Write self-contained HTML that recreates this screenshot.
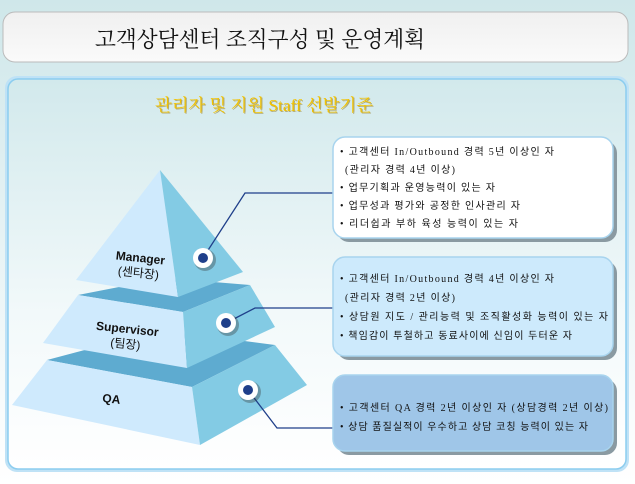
<!DOCTYPE html>
<html><head><meta charset="utf-8"><style>
body{margin:0;width:635px;height:484px;overflow:hidden;background:#cfe7ea;font-family:"Liberation Sans","Noto Sans CJK KR",sans-serif;}
</style></head><body>
<svg width="635" height="484" xmlns="http://www.w3.org/2000/svg" style="position:absolute;left:0;top:0">
<defs>
<linearGradient id="bg" x1="0" y1="0" x2="0" y2="1"><stop offset="0" stop-color="#cfe7ea"/><stop offset="1" stop-color="#ffffff"/></linearGradient>
<linearGradient id="panel" x1="0" y1="0" x2="0" y2="1"><stop offset="0" stop-color="#d2e9ec"/><stop offset="0.6" stop-color="#f2f9fa"/><stop offset="1" stop-color="#ffffff"/></linearGradient>
<linearGradient id="tb" x1="0" y1="0" x2="0" y2="1"><stop offset="0" stop-color="#f0f0f0"/><stop offset="1" stop-color="#fafafa"/></linearGradient>
</defs>
<rect width="635" height="484" fill="url(#bg)"/>
<rect x="3" y="12" width="625" height="50" rx="12" fill="url(#tb)" stroke="#bbb" stroke-width="1"/>
<text x="260" y="47" font-size="22" text-anchor="middle" font-family="'Noto Serif CJK SC','Noto Sans CJK KR',serif" fill="#111" textLength="330" lengthAdjust="spacingAndGlyphs">고객상담센터 조직구성 및 운영계획</text>
<text x="265" y="112" font-size="17" text-anchor="middle" font-family="'Liberation Serif','Noto Serif CJK SC',serif" fill="#8a6a00" opacity="0.6" textLength="218" lengthAdjust="spacingAndGlyphs">관리자 및 지원 Staff 선발기준</text>
<rect x="5" y="76" width="624" height="396" rx="12" fill="#bfe2f6"/>
<rect x="8" y="79" width="618" height="390" rx="10" fill="url(#panel)" stroke="#8ccdef" stroke-width="1.5"/>
<text x="265" y="112" font-size="17" text-anchor="middle" font-family="'Liberation Serif','Noto Serif CJK SC',serif" fill="#8a6a00" opacity="0.5" textLength="218" lengthAdjust="spacingAndGlyphs">관리자 및 지원 Staff 선발기준</text>
<text x="264" y="111" font-size="17" text-anchor="middle" font-family="'Liberation Serif','Noto Serif CJK SC',serif" fill="#f2c200" textLength="218" lengthAdjust="spacingAndGlyphs">관리자 및 지원 Staff 선발기준</text>

<polygon points="47,360 192,387 275,345 160,330" fill="#5eabd0"/>
<polygon points="12,405 47,360 192,387 200,445" fill="#cfeafd"/>
<polygon points="192,387 275,345 307,385 200,445" fill="#83cbe4"/>
<polygon points="78,295 183,312 250,285 165,278" fill="#5eabd0"/>
<polygon points="43,343 78,295 183,312 187,368" fill="#cfeafd"/>
<polygon points="183,312 250,285 275,327 187,368" fill="#83cbe4"/>
<polygon points="160,170 76,280 178,297" fill="#cfeafd"/>
<polygon points="160,170 178,297 243,272" fill="#83cbe4"/>

<text x="140" y="262" font-size="12" font-weight="bold" text-anchor="middle" fill="#111" transform="rotate(6 140 262)">Manager</text>
<text x="138" y="277" font-size="12" text-anchor="middle" fill="#111" transform="rotate(6 138 277)">(센타장)</text>
<text x="127" y="333" font-size="12" font-weight="bold" text-anchor="middle" fill="#111" transform="rotate(6 127 333)">Supervisor</text>
<text x="125" y="348" font-size="12" text-anchor="middle" fill="#111" transform="rotate(6 125 348)">(팀장)</text>
<text x="111" y="403" font-size="12" font-weight="bold" text-anchor="middle" fill="#111" transform="rotate(6 111 403)">QA</text>

<g fill="none" stroke="#1f3f8a" stroke-width="1.3">
<polyline points="203,258 245,193 334,193"/>
<polyline points="226,323 255,308 334,308"/>
<polyline points="248,390 277,428 334,428"/>
</g>
<g>
<circle cx="205" cy="260" r="11" fill="#333" opacity="0.35"/><circle cx="203" cy="258" r="10" fill="#fff"/><circle cx="203" cy="258" r="5" fill="#1f3f8a"/>
<circle cx="228" cy="325" r="11" fill="#333" opacity="0.35"/><circle cx="226" cy="323" r="10" fill="#fff"/><circle cx="226" cy="323" r="5" fill="#1f3f8a"/>
<circle cx="250" cy="392" r="11" fill="#333" opacity="0.35"/><circle cx="248" cy="390" r="10" fill="#fff"/><circle cx="248" cy="390" r="5" fill="#1f3f8a"/>
</g>

<rect x="337" y="141" width="280" height="101" rx="12" fill="#8a9aa2"/>
<rect x="333" y="137" width="280" height="101" rx="12" fill="#fff" stroke="#a8d4ee" stroke-width="1.5"/>
<rect x="337" y="261" width="280" height="99" rx="12" fill="#8a9aa2"/>
<rect x="333" y="257" width="280" height="99" rx="12" fill="#cdeafc" stroke="#a8d4ee" stroke-width="1.5"/>
<rect x="337" y="379" width="280" height="76" rx="12" fill="#8a9aa2"/>
<rect x="333" y="375" width="280" height="76" rx="12" fill="#9fc6e8" stroke="#a8d4ee" stroke-width="1.5"/>

<g font-size="10" fill="#111" font-family="'Liberation Serif','Noto Sans CJK KR',sans-serif" lengthAdjust="spacing">
<text x="340" y="155" textLength="214">• 고객센터 In/Outbound  경력 5년 이상인 자</text>
<text x="345" y="173" textLength="110">(관리자 경력 4년 이상)</text>
<text x="340" y="191" textLength="155">• 업무기획과 운영능력이 있는 자</text>
<text x="340" y="209" textLength="180">• 업무성과 평가와 공정한 인사관리 자</text>
<text x="340" y="227" textLength="178">• 리더쉽과 부하 육성 능력이 있는 자</text>
<text x="340" y="282" textLength="214">• 고객센터 In/Outbound  경력 4년 이상인 자</text>
<text x="345" y="301" textLength="110">(관리자 경력 2년 이상)</text>
<text x="340" y="320" textLength="268">• 상담원 지도 / 관리능력 및 조직활성화 능력이 있는 자</text>
<text x="340" y="339" textLength="232">• 책임감이 투철하고 동료사이에 신임이 두터운 자</text>
<text x="340" y="411" textLength="268">• 고객센터 QA 경력 2년 이상인 자 (상담경력 2년 이상)</text>
<text x="340" y="430" textLength="248">• 상담 품질실적이 우수하고 상담 코칭 능력이 있는 자</text>
</g>
</svg>
</body></html>
